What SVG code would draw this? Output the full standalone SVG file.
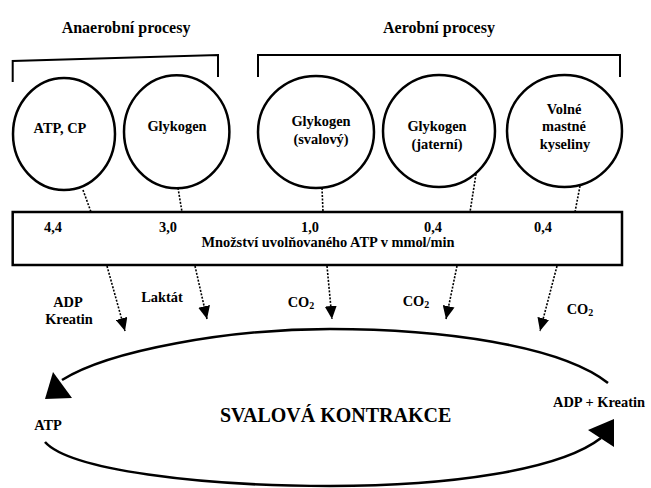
<svg xmlns="http://www.w3.org/2000/svg" width="651" height="488" viewBox="0 0 651 488">
<style>
text{font-family:"Liberation Serif","Times New Roman",serif;font-weight:bold;fill:#000;}
.hd{font-size:16px;text-anchor:middle;}
.t{font-size:14.4px;text-anchor:middle;}
.big{font-size:20px;}
.node{fill:#fff;stroke:#000;stroke-width:2.5;}
.brk{fill:none;stroke:#000;stroke-width:2;}
.dot{fill:none;stroke:#000;stroke-width:1.6;stroke-dasharray:2 1.5;}
.cyc{fill:none;stroke:#000;stroke-width:2.6;}
</style>
<defs>
<marker id="ah" viewBox="0 0 13 12" refX="13" refY="6" markerWidth="13" markerHeight="12" markerUnits="userSpaceOnUse" orient="auto">
<path d="M0,0 L13,6 L0,12 z" fill="#000"/>
</marker>
</defs>
<rect width="651" height="488" fill="#fff"/>

<g id="headers">
<text class="hd" x="126" y="33">Anaerobní procesy</text>
<text class="hd" x="439" y="33">Aerobní procesy</text>
</g>

<g id="brackets">
<path class="brk" d="M12.7,82 L12.7,61 L218,55 L218,77"/>
<path class="brk" d="M258,77 L258,55 L620,55 L620,77"/>
</g>

<g id="connectors">
<line class="dot" x1="83" y1="190" x2="91" y2="212"/>
<line class="dot" x1="178" y1="188" x2="182" y2="212"/>
<line class="dot" x1="322" y1="188" x2="323" y2="212"/>
<line class="dot" x1="476" y1="174" x2="470" y2="212"/>
<line class="dot" x1="580" y1="186" x2="575" y2="212"/>
<line class="dot" x1="107" y1="266" x2="125" y2="331" marker-end="url(#ah)"/>
<line class="dot" x1="195" y1="266" x2="207" y2="319" marker-end="url(#ah)"/>
<line class="dot" x1="327" y1="266" x2="332" y2="319" marker-end="url(#ah)"/>
<line class="dot" x1="457" y1="266" x2="446" y2="319" marker-end="url(#ah)"/>
<line class="dot" x1="557" y1="266" x2="540" y2="331" marker-end="url(#ah)"/>
</g>

<g id="n-atp-cp">
<ellipse class="node" cx="64" cy="134" rx="51" ry="56"/>
<text class="t" x="60" y="133">ATP, CP</text>
</g>
<g id="n-glykogen">
<ellipse class="node" cx="176.7" cy="131.7" rx="52.7" ry="56.5"/>
<text class="t" x="177" y="131">Glykogen</text>
</g>
<g id="n-glykogen-svalovy">
<ellipse class="node" cx="316" cy="132" rx="58" ry="56"/>
<text class="t" x="321" y="126">Glykogen</text>
<text class="t" x="321" y="144">(svalový)</text>
</g>
<g id="n-glykogen-jaterni">
<ellipse class="node" cx="439" cy="131" rx="56" ry="56"/>
<text class="t" x="437" y="131">Glykogen</text>
<text class="t" x="437" y="149">(jaterní)</text>
</g>
<g id="n-mastne-kyseliny">
<ellipse class="node" cx="564.5" cy="131" rx="57.5" ry="56"/>
<text class="t" x="564" y="114">Volné</text>
<text class="t" x="564" y="131">mastné</text>
<text class="t" x="565" y="149">kyseliny</text>
</g>

<g id="n-atp-box">
<rect class="node" x="12.7" y="212" width="609.3" height="53"/>
<text class="t" x="53" y="232">4,4</text>
<text class="t" x="168" y="232">3,0</text>
<text class="t" x="310" y="232">1,0</text>
<text class="t" x="433" y="232">0,4</text>
<text class="t" x="543" y="232">0,4</text>
<text class="t" x="328" y="247">Množství uvolňovaného ATP v mmol/min</text>
</g>

<g id="products">
<text class="t" x="68" y="307">ADP</text>
<text class="t" x="69" y="324">Kreatin</text>
<text class="t" x="162" y="302">Laktát</text>
<text class="t" x="301" y="307">CO<tspan font-size="10" dy="2">2</tspan></text>
<text class="t" x="416" y="306">CO<tspan font-size="10" dy="2">2</tspan></text>
<text class="t" x="580" y="314">CO<tspan font-size="10" dy="2">2</tspan></text>
</g>

<g id="n-cycle">
<path class="cyc" d="M62,380 C110,350 230,329 330,329 C440,329 560,345 608,383"/>
<path class="cyc" d="M45,442 C70,470 200,486 330,486 C450,486 560,470 601,438"/>
<polygon points="45,399 53,372 72,398" fill="#000"/>
<polygon points="588,430 614,419 614,447" fill="#000"/>
<text class="t" x="48" y="430">ATP</text>
<text class="t" x="599" y="407">ADP + Kreatin</text>
<text class="big" x="220" y="422">SVALOVÁ KONTRAKCE</text>
</g>
</svg>
